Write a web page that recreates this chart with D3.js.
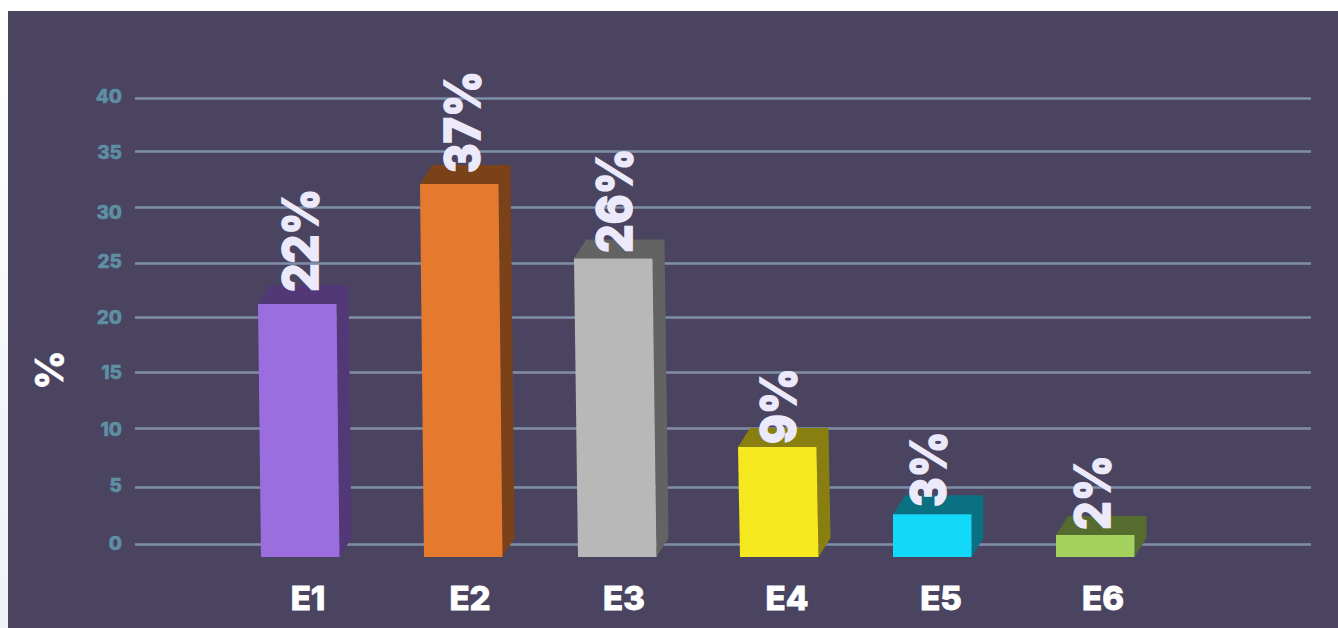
<!DOCTYPE html>
<html><head><meta charset="utf-8">
<script src="https://cdn.jsdelivr.net/npm/d3@7/dist/d3.min.js"></script>
<style>html,body{margin:0;padding:0;background:#fff;overflow:hidden}svg{display:block}text{font-family:Inter,"Open Sans",sans-serif}</style>
</head><body><svg id="c" width="1338" height="628"></svg>
<script>
const categories = ["E1","E2","E3","E4","E5","E6"];
const valueLabels = ["22%","37%","26%","9%","3%","2%"];
const barHeights = [21.2,32.05,25.4,8.4,2.6,0.8];
const barBase = -1.14;
const frontColors = ["#9b6ee0","#e5792d","#b8b8b8","#f6e81e","#11d9f7","#a5d15f"];
const darkColors = ["#533878","#7b421a","#636363","#887f10","#0a7182","#566c2f"];
const yTicks = [0,5,10,15,20,25,30,35,40];

// layout
const W = 1338, H = 628;
const yPixels = [544,487,428,372,317,263,207,151,98];
const tickNudge = [-1,-2,1,0,0,-2,5,1,-2];
const barLeft = [258,420,574,738,893,1056];
const barLean = [3,4,4,2,0,0];
const barW = 78.5, depthX = 12, depthY = 19;
const catX = [308,470,624,787,941,1103];
const labelRight = [318,480,632,796,946,1110];
const labelY = [292,173,253,444,507,530];

const svg = d3.select("#c");
const defs = svg.append("defs");
const g = defs.append("linearGradient").attr("id","bg").attr("x1",0).attr("x2",0).attr("y1",0).attr("y2",1);
g.append("stop").attr("offset",0).attr("stop-color","#ffffff");
g.append("stop").attr("offset",1).attr("stop-color","#eef2f7");
svg.append("rect").attr("width",W).attr("height",H).attr("fill","url(#bg)");
svg.append("rect").attr("x",8).attr("y",11).attr("width",W-8).attr("height",H-11).attr("fill","#4a4461");

const y = d3.scaleLinear().domain(yTicks).range(yPixels);
const axis = d3.axisLeft(y).tickValues(yTicks).tickSize(-(1311-135)).tickPadding(13);
const ax = svg.append("g").attr("transform","translate(135,0)").call(axis);
ax.select(".domain").remove();
ax.selectAll("line").attr("stroke","#808fa8").attr("stroke-width",2.6);
ax.selectAll("text").attr("fill","#5f8fa3").attr("stroke","#5f8fa3").attr("stroke-width",0.5)
  .style("font-size","19px").style("font-weight",800)
  .attr("dy",null).attr("transform",(d,i)=>`translate(0,${tickNudge[i]+6})`);

const bars = svg.append("g").selectAll("g").data(categories).join("g");
const barTop = i => y(barHeights[i]), bot = y(barBase);
bars.append("path").attr("fill",(d,i)=>darkColors[i]).attr("d",(d,i)=>{
  const x0=barLeft[i], x1=x0+barW, t=barTop(i), l=barLean[i];
  return `M${x0},${t}L${x0+depthX},${t-depthY}H${x1+depthX}L${x1+depthX+l},${bot-depthY}L${x1+l},${bot}L${x1},${t}Z`;
});
bars.append("path").attr("fill",(d,i)=>frontColors[i]).attr("d",(d,i)=>{
  const x0=barLeft[i], x1=x0+barW, t=barTop(i), l=barLean[i];
  return `M${x0},${t}H${x1}L${x1+l},${bot}H${x0+l}Z`;
});

svg.append("g").selectAll("text").data(valueLabels).join("text")
  .attr("transform",(d,i)=>`translate(${labelRight[i]},${labelY[i]}) rotate(-90) scale(0.9,1)`)
  .attr("fill","#ece9fb").attr("stroke","#ece9fb").attr("stroke-width",1.6)
  .style("font-size","50px").style("font-weight",800)
  .text(d=>d);

svg.append("g").selectAll("text").data(categories).join("text")
  .attr("x",(d,i)=>catX[i]).attr("y",610).attr("text-anchor","middle")
  .attr("fill","#fff").attr("stroke","#fff").attr("stroke-width",0.8)
  .style("font-size","33px").style("font-weight",800).text(d=>d);

svg.append("text").attr("transform","translate(63,370) rotate(-90)").attr("text-anchor","middle")
  .attr("fill","#fff").attr("stroke","#fff").attr("stroke-width",0.6)
  .style("font-size","38px").style("font-weight",800).text("%");
</script></body></html>
